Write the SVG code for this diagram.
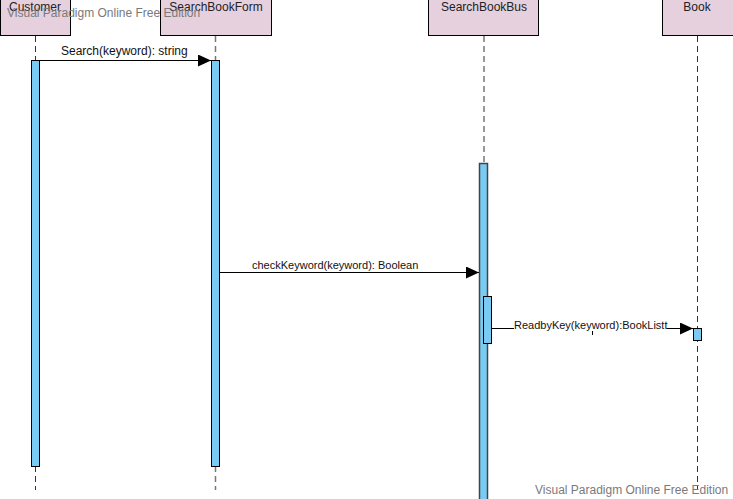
<svg xmlns="http://www.w3.org/2000/svg" width="733" height="499" viewBox="0 0 733 499">
  <defs>
    <marker id="arrowhead" markerWidth="13" markerHeight="12" refX="13" refY="6" orient="auto" markerUnits="userSpaceOnUse">
      <path d="M0,0 L13,6 L0,12 Z" fill="#000"/>
    </marker>
    <style>
      text { font-family: "Liberation Sans", Arial, sans-serif; }
      .head { fill: #e6d0de; stroke: #000; stroke-width: 1; }
      .headlabel { font-size: 12px; fill: #222; text-anchor: middle; }
      .lifeline { stroke: #333; stroke-width: 1; stroke-dasharray: 6,4; fill: none; }
      .lifeline.grey { stroke: #777; stroke-width: 1.5; }
      .bar { fill: #7acbf3; stroke: #000; stroke-width: 1; }
      .bar.dark { stroke: #444; stroke-width: 1.5; }
      .msg { stroke: #000; stroke-width: 1; fill: none; }
      .msglabel { font-size: 11px; fill: #111; }
      .watermark { font-size: 12px; fill: #7a7a7a; }
    </style>
  </defs>

  <rect width="733" height="499" fill="#fff"/>

  <!-- Lifeline: Customer -->
  <g id="customer">
    <rect class="head" x="0.5" y="-10" width="70" height="45.5"/>
    <line class="lifeline" x1="35.5" y1="36" x2="35.5" y2="490"/>
    <rect class="bar" x="31.5" y="60.5" width="8" height="406"/>
    <text class="headlabel" x="35" y="11">Customer</text>
  </g>

  <!-- Lifeline: SearchBookForm -->
  <g id="searchbookform">
    <rect class="head" x="160.5" y="-10" width="111" height="45.5"/>
    <line class="lifeline grey" x1="215.5" y1="36" x2="215.5" y2="490"/>
    <rect class="bar" x="211.5" y="60.5" width="8" height="406"/>
    <text class="headlabel" x="216" y="11">SearchBookForm</text>
  </g>

  <!-- Lifeline: SearchBookBus -->
  <g id="searchbookbus">
    <rect class="head" x="428.5" y="-10" width="110" height="45.5"/>
    <line class="lifeline grey" x1="484" y1="36" x2="484" y2="163"/>
    <rect class="bar dark" x="479.5" y="163.5" width="8" height="340"/>
    <rect class="bar" x="483.5" y="296.5" width="8" height="47"/>
    <text class="headlabel" x="484" y="11">SearchBookBus</text>
  </g>

  <!-- Lifeline: Book -->
  <g id="book">
    <rect class="head" x="662.5" y="-10" width="75" height="45.5"/>
    <line class="lifeline" x1="697.5" y1="36" x2="697.5" y2="490"/>
    <rect class="bar" x="693.5" y="328.5" width="8" height="12"/>
    <text class="headlabel" x="697" y="11">Book</text>
  </g>

  <!-- Messages -->
  <g id="connectors">
    <line class="msg" x1="40" y1="60.5" x2="211" y2="60.5" marker-end="url(#arrowhead)"/>
    <text class="msglabel" x="61" y="55" style="font-size:12px">Search(keyword): string</text>

    <line class="msg" x1="220" y1="272.5" x2="479" y2="272.5" marker-end="url(#arrowhead)"/>
    <text class="msglabel" x="252" y="269">checkKeyword(keyword): Boolean</text>

    <line class="msg" x1="492" y1="328.5" x2="514" y2="328.5"/>
    <line class="msg" x1="667" y1="328.5" x2="693" y2="328.5" marker-end="url(#arrowhead)"/>
    <line class="msg" x1="592.5" y1="331" x2="592.5" y2="335"/>
    <text class="msglabel" x="514" y="329">ReadbyKey(keyword):BookListt</text>
  </g>

  <text class="watermark" x="7" y="17">Visual Paradigm Online Free Edition</text>
  <text class="watermark" x="535" y="494">Visual Paradigm Online Free Edition</text>
</svg>
